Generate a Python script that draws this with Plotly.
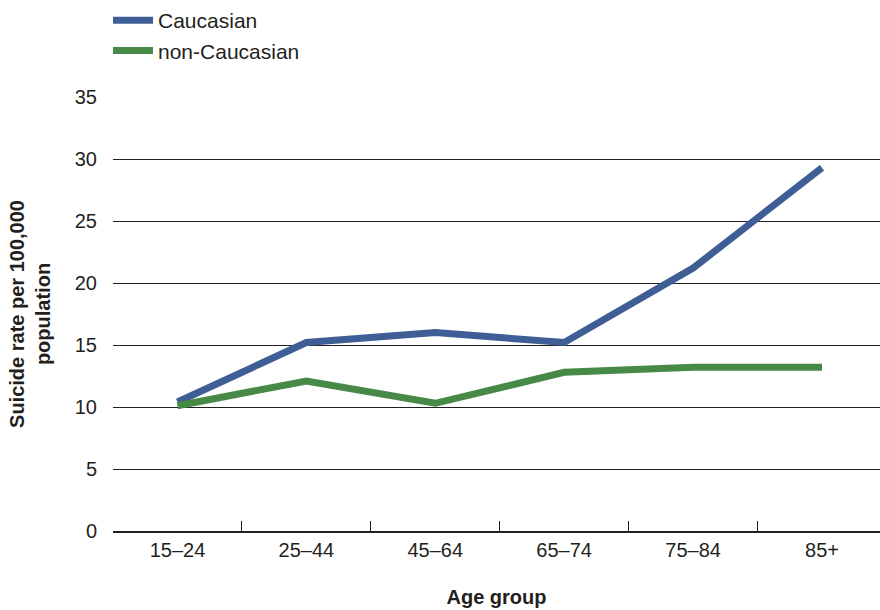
import plotly.graph_objects as go

age_groups = ["15–24", "25–44", "45–64", "65–74", "75–84", "85+"]
caucasian = [10.4, 15.2, 16.0, 15.2, 21.2, 29.3]
non_caucasian = [10.1, 12.1, 10.3, 12.8, 13.2, 13.2]
y_ticks = [0, 5, 10, 15, 20, 25, 30, 35]

BLUE = "#3F5E95"
GREEN = "#478A47"
FONT = "Liberation Sans, Arial, sans-serif"

fig = go.Figure()
fig.add_trace(go.Scatter(x=age_groups, y=caucasian, mode="lines", name="Caucasian",
                         line=dict(color=BLUE, width=7)))
fig.add_trace(go.Scatter(x=age_groups, y=non_caucasian, mode="lines", name="non-Caucasian",
                         line=dict(color=GREEN, width=7)))

fig.update_layout(
    width=880, height=610,
    margin=dict(l=113, r=0, t=97, b=79),
    paper_bgcolor="white", plot_bgcolor="white",
    font=dict(family=FONT, size=20, color="#231F20"),
    showlegend=True,
    legend=dict(x=-0.0065, xanchor="left", y=1.0, yanchor="top", yref="container",
                font=dict(size=21), bgcolor="rgba(0,0,0,0)", tracegroupgap=0,
                itemwidth=40),
    xaxis=dict(
        type="category", range=[-0.5, 5.45],
        showline=True, linecolor="#231F20", linewidth=2,
        ticks="inside", ticklen=10, tickcolor="#231F20", tickwidth=1,
        tickson="boundaries", showgrid=False, zeroline=False,
        tickfont=dict(size=20),
        title=dict(text="<b>Age group</b>", font=dict(size=20), standoff=30),
    ),
    yaxis=dict(
        range=[0, 35], tickvals=y_ticks, showgrid=True, gridcolor="#231F20", gridwidth=1,
        showline=False, zeroline=False, ticks="", ticklabelstandoff=15,
        tickfont=dict(size=20),
        title=dict(text="<b>Suicide rate per 100,000<br>population</b>", font=dict(size=20),
                   standoff=18),
    ),
)

fig.write_html("out.html", config={"displayModeBar": False},
               post_script="document.body.style.margin='0';")
